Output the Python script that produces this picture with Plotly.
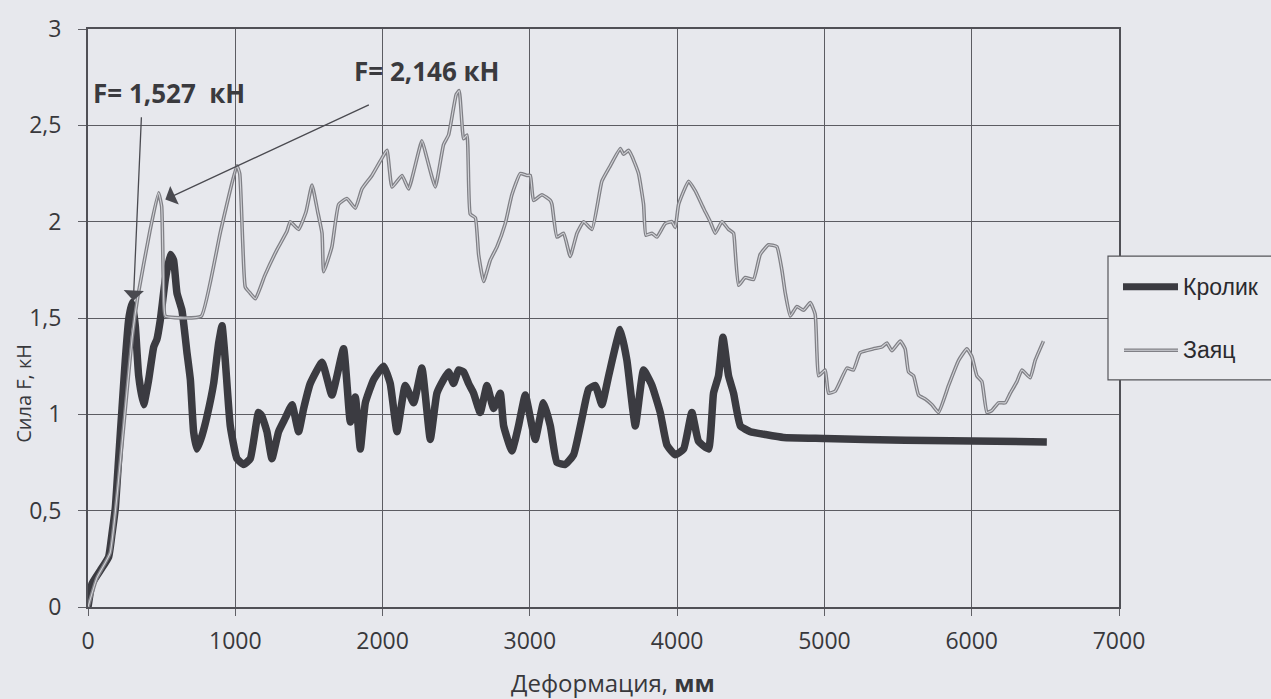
import plotly.graph_objects as go

# ---- data ----
krolik_x = [0, 27, 84, 140, 163, 185, 208, 231, 253, 276, 299, 321, 344, 378, 412, 446, 468, 491,
            525, 559, 581, 604, 638, 672, 695, 717, 740, 774, 808, 853, 887, 910, 932, 966, 1011,
            1056, 1102, 1158, 1181, 1215, 1249, 1294, 1339, 1385, 1430, 1464, 1509, 1589, 1656,
            1735, 1781, 1815, 1849, 1883, 1939, 2007, 2052, 2098, 2154, 2211, 2267, 2324, 2369,
            2414, 2448, 2482, 2516, 2550, 2584, 2618, 2663, 2709, 2754, 2799, 2822, 2878, 2923,
            2969, 3014, 3037, 3093, 3139, 3184, 3240, 3297, 3354, 3399, 3444, 3489, 3535, 3614,
            3659, 3716, 3772, 3829, 3885, 3931, 3987, 4044, 4100, 4145, 4213, 4247, 4281, 4311,
            4349, 4383, 4429, 4497, 4600, 4722, 5000, 5548, 6510]
krolik_y = [0.0, 0.12, 0.19, 0.26, 0.38, 0.51, 0.77, 1.03, 1.28, 1.49, 1.58, 1.46, 1.20, 1.05, 1.18,
            1.35, 1.39, 1.49, 1.70, 1.83, 1.80, 1.63, 1.54, 1.32, 1.18, 0.91, 0.82, 0.89, 0.99,
            1.16, 1.37, 1.46, 1.28, 0.94, 0.77, 0.74, 0.77, 1.01, 0.99, 0.91, 0.77, 0.91, 0.98,
            1.05, 0.91, 1.03, 1.16, 1.27, 1.10, 1.34, 0.96, 1.09, 0.82, 1.06, 1.18, 1.25, 1.16,
            0.91, 1.15, 1.06, 1.24, 0.87, 1.11, 1.18, 1.22, 1.16, 1.23, 1.22, 1.16, 1.11, 1.01,
            1.15, 1.03, 1.11, 0.94, 0.81, 0.94, 1.10, 0.94, 0.87, 1.06, 0.94, 0.75, 0.74, 0.79,
            0.98, 1.13, 1.15, 1.05, 1.20, 1.44, 1.28, 0.94, 1.23, 1.15, 1.01, 0.84, 0.79, 0.82,
            1.01, 0.86, 0.82, 1.11, 1.20, 1.40, 1.20, 1.11, 0.94, 0.91, 0.895, 0.88, 0.875, 0.865,
            0.857]

zayats_x = [0, 60, 150, 200, 250, 300, 340, 420, 479, 500, 513, 525, 660, 770, 900, 1011, 1030,
            1050, 1068, 1100, 1137, 1200, 1280, 1351, 1373, 1430, 1480, 1521, 1560, 1589, 1600,
            1656, 1702, 1758, 1815, 1860, 1928, 1996, 2030, 2064, 2132, 2177, 2267, 2301, 2358,
            2414, 2448, 2500, 2520, 2550, 2573, 2595, 2630, 2652, 2686, 2731, 2777, 2833, 2878,
            2935, 2980, 3003, 3025, 3082, 3139, 3150, 3184, 3229, 3274, 3320, 3365, 3422, 3489,
            3546, 3614, 3636, 3670, 3693, 3738, 3772, 3788, 3829, 3863, 3919, 3965, 3987, 4010,
            4078, 4123, 4179, 4225, 4259, 4304, 4349, 4383, 4394, 4417, 4462, 4519, 4564, 4620,
            4677, 4711, 4734, 4768, 4813, 4858, 4904, 4937, 4949, 4960, 5005, 5028, 5073, 5153,
            5197, 5243, 5333, 5390, 5424, 5458, 5515, 5548, 5571, 5605, 5639, 5684, 5730, 5775,
            5843, 5911, 5967, 6001, 6035, 6069, 6103, 6137, 6182, 6228, 6262, 6307, 6341, 6397,
            6431, 6487]
zayats_y = [0.0, 0.15, 0.28, 0.60, 1.00, 1.40, 1.62, 1.95, 2.15, 2.08, 1.63, 1.51, 1.50, 1.51,
            1.95, 2.29, 2.25, 1.90, 1.66, 1.63, 1.60, 1.72, 1.85, 1.95, 2.00, 1.96, 2.05, 2.19,
            2.05, 1.94, 1.74, 1.87, 2.09, 2.12, 2.07, 2.17, 2.24, 2.33, 2.37, 2.18, 2.24, 2.17,
            2.42, 2.33, 2.18, 2.40, 2.45, 2.66, 2.68, 2.43, 2.45, 2.04, 2.02, 1.83, 1.69, 1.80,
            1.87, 1.99, 2.14, 2.25, 2.24, 2.24, 2.11, 2.14, 2.11, 2.09, 1.92, 1.94, 1.82, 1.94,
            2.00, 1.96, 2.21, 2.29, 2.38, 2.35, 2.37, 2.34, 2.25, 2.09, 1.93, 1.94, 1.92, 1.99,
            2.00, 1.97, 2.09, 2.21, 2.16, 2.07, 2.00, 1.94, 2.00, 1.96, 1.94, 1.85, 1.67, 1.71,
            1.70, 1.83, 1.88, 1.87, 1.75, 1.63, 1.51, 1.56, 1.54, 1.58, 1.52, 1.32, 1.20, 1.23,
            1.11, 1.12, 1.24, 1.23, 1.32, 1.34, 1.35, 1.37, 1.33, 1.38, 1.34, 1.22, 1.20, 1.10,
            1.08, 1.05, 1.01, 1.15, 1.28, 1.34, 1.30, 1.20, 1.17, 1.01, 1.02, 1.06, 1.06, 1.11,
            1.17, 1.23, 1.19, 1.28, 1.38]

series_names = ["Кролик", "Заяц"]
x_ticks = [0, 1000, 2000, 3000, 4000, 5000, 6000, 7000]
y_ticks = [0, 0.5, 1, 1.5, 2, 2.5, 3]

# annotation labels (text, text pos, arrow tail, arrow tip) in data units
ann_texts = ["F= 1,527&nbsp;&nbsp;кН", "F= 2,146 кН"]
ann_text_x = [552, 2304]
ann_text_y = [2.67, 2.78]
ann_tail_x = [363, 1917]
ann_tail_y = [2.55, 2.61]
ann_tip_x = [308, 525]
ann_tip_y = [1.59, 2.115]

BG = "#e7e8ed"
FONT = "Open Sans"
TXT = "#38383c"

fig = go.Figure()
fig.add_trace(go.Scatter(x=krolik_x, y=krolik_y, mode="lines", name=series_names[0],
                         line=dict(color="#3b3b41", width=7.5, shape="spline", smoothing=0.4),
                         showlegend=False))
fig.add_trace(go.Scatter(x=zayats_x, y=zayats_y, mode="lines", name=series_names[1],
                         line=dict(color="#808086", width=3.6, shape="spline", smoothing=0.4),
                         showlegend=False))
fig.add_trace(go.Scatter(x=zayats_x, y=zayats_y, mode="lines", name=series_names[1],
                         line=dict(color="#d2d3d8", width=1.1, shape="spline", smoothing=0.4),
                         showlegend=False, hoverinfo="skip"))

L, R, T, B = 88, 1119, 24, 607
W, H = 1271, 699

def px(x):
    return (x - L) / (R - L)

def py(y):
    return (B - y) / (B - T)

annotations = []
for i in range(2):
    annotations.append(dict(x=ann_tip_x[i], y=ann_tip_y[i], ax=ann_tail_x[i], ay=ann_tail_y[i],
                            xref="x", yref="y", axref="x", ayref="y", text="", showarrow=True,
                            arrowhead=1, arrowsize=2.6, arrowwidth=1.3, arrowcolor="#4a4a50"))
    annotations.append(dict(x=ann_text_x[i], y=ann_text_y[i], xref="x", yref="y",
                            xanchor="center", yanchor="middle",
                            text="<b>" + ann_texts[i] + "</b>", showarrow=False,
                            font=dict(family=FONT, size=26, color="#3a3a3e")))

# axis titles
annotations.append(dict(x=px(24), y=py(392), xref="paper", yref="paper", text="Сила F, кН",
                        xanchor="center", yanchor="middle",
                        textangle=-90, showarrow=False, font=dict(family=FONT, size=20, color=TXT)))
annotations.append(dict(x=px(613), y=py(683), xref="paper", yref="paper",
                        xanchor="center", yanchor="middle",
                        text="Деформация, <b>мм</b>", showarrow=False,
                        font=dict(family=FONT, size=24, color=TXT)))

# legend (drawn box)
shapes = [dict(type="rect", xref="paper", yref="paper", x0=px(1108), x1=px(1285), y0=py(378),
               y1=py(253), line=dict(color="#55555a", width=1.2), fillcolor="#eaebef", layer="above"),
          dict(type="line", xref="paper", yref="paper", x0=px(1123), x1=px(1178), y0=py(284),
               y1=py(284), line=dict(color="#3b3b41", width=7), layer="above"),
          dict(type="line", xref="paper", yref="paper", x0=px(1124), x1=px(1178), y0=py(348),
               y1=py(348), line=dict(color="#808086", width=3.6), layer="above"),
          dict(type="line", xref="paper", yref="paper", x0=px(1124), x1=px(1178), y0=py(348),
               y1=py(348), line=dict(color="#d2d3d8", width=1.1), layer="above")]
for name, yy in zip(series_names, [284, 348]):
    annotations.append(dict(x=px(1181), y=py(yy), xref="paper", yref="paper", text=name,
                            xanchor="left", yanchor="middle", showarrow=False,
                            font=dict(family="Liberation Sans", size=23, color="#2a2a2e")))

axis_common = dict(showgrid=True, gridcolor="#5c5c62", gridwidth=1, showline=True,
                   linecolor="#505056", linewidth=2, mirror=True, ticks="outside",
                   tickcolor="#606066", zeroline=False,
                   tickfont=dict(family=FONT, size=23, color=TXT))

fig.update_layout(
    width=W, height=H,
    margin=dict(l=L, r=W - R, t=T, b=H - B),
    paper_bgcolor=BG, plot_bgcolor=BG,
    separators=", ",
    xaxis=dict(range=[0, 7000], tickvals=x_ticks, ticklen=7, ticklabelstandoff=5, **axis_common),
    yaxis=dict(range=[0, 3], tickvals=y_ticks, ticklen=8, ticklabelstandoff=12, **axis_common),
    annotations=annotations, shapes=shapes,
)

fig.write_html("out.html", config={"displayModeBar": False},
               post_script="document.body.style.margin='0';document.body.style.overflow='hidden';"
                           "document.body.style.background='" + BG + "';")
